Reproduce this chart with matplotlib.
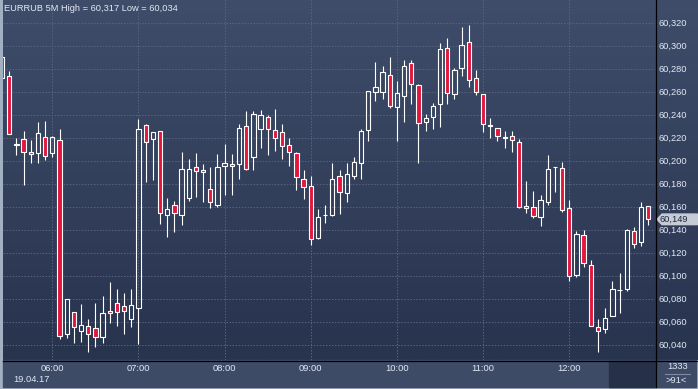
import numpy as np
import pandas as pd
import matplotlib
matplotlib.use("Agg")
import matplotlib.pyplot as plt
from matplotlib.patches import Rectangle, Polygon
from matplotlib.ticker import FuncFormatter

plt.rcParams['font.family'] = ['Liberation Sans', 'DejaVu Sans']

# EURRUB 5M candles, 19.04.17 05:25 .. 12:55
opens = [60.2900, 60.2737, 60.2140, 60.2186, 60.2073, 60.2064, 60.2203, 60.2064,
         60.2180, 60.0496, 60.0682, 60.0517, 60.0560, 60.0543, 60.0470, 60.0690,
         60.0760, 60.0734, 60.0626, 60.0716, 60.2308, 60.2186, 60.2256, 60.1525,
         60.1612, 60.1525, 60.1673, 60.1943, 60.1917, 60.1751, 60.1612, 60.1951,
         60.1969, 60.1969, 60.2299, 60.2030, 60.2273, 60.2377, 60.2264, 60.2247,
         60.2134, 60.2064, 60.1838, 60.1778, 60.1325, 60.1525, 60.1525, 60.1864,
         60.1717, 60.1864, 60.1977, 60.2264, 60.2595, 60.2595, 60.2743, 60.2464,
         60.2560, 60.2847, 60.2656, 60.2334, 60.2377, 60.2490, 60.2977, 60.2577,
         60.2803, 60.3030, 60.2717, 60.2577, 60.2304, 60.2282, 60.2200, 60.2212,
         60.2160, 60.1586, 60.1595, 60.1508, 60.1638, 60.1943, 60.1934, 60.1586,
         60.1009, 60.1351, 60.1090, 60.0551, 60.0534, 60.0647, 60.0873, 60.0882,
         60.1386, 60.1290, 60.1603]
highs = [60.2900, 60.2780, 60.2200, 60.2258, 60.2180, 60.2337, 60.2345, 60.2215,
         60.2276, 60.0795, 60.0682, 60.0754, 60.0621, 60.0763, 60.0823, 60.0945,
         60.0884, 60.0850, 60.0884, 60.2363, 60.2319, 60.2247, 60.2256, 60.1676,
         60.1650, 60.2073, 60.2012, 60.2064, 60.1969, 60.1943, 60.2056, 60.2143,
         60.2056, 60.2317, 60.2430, 60.2430, 60.2438, 60.2395, 60.2447, 60.2317,
         60.2195, 60.2073, 60.1917, 60.1864, 60.1577, 60.1612, 60.1977, 60.1917,
         60.1977, 60.2035, 60.2276, 60.2603, 60.2858, 60.2823, 60.2902, 60.2690,
         60.2873, 60.2873, 60.2664, 60.2403, 60.2499, 60.3021, 60.3064, 60.2803,
         60.3160, 60.3177, 60.2786, 60.2577, 60.2369, 60.2282, 60.2256, 60.2256,
         60.2189, 60.1821, 60.1734, 60.1699, 60.2047, 60.1943, 60.1986, 60.1656,
         60.1386, 60.1395, 60.1134, 60.0621, 60.0717, 60.0951, 60.1021, 60.1403,
         60.1421, 60.1638, 60.1603]
lows = [60.2716, 60.2230, 60.2050, 60.1790, 60.1980, 60.1980, 60.2006, 60.2032,
        60.0452, 60.0461, 60.0417, 60.0426, 60.0339, 60.0383, 60.0417, 60.0586,
        60.0565, 60.0496, 60.0557, 60.0409, 60.1817, 60.1835, 60.1447, 60.1334,
        60.1383, 60.1443, 60.1647, 60.1682, 60.1638, 60.1586, 60.1595, 60.1699,
        60.1699, 60.1838, 60.1917, 60.1917, 60.2108, 60.2047, 60.2082, 60.2012,
        60.1951, 60.1743, 60.1664, 60.1264, 60.1317, 60.1456, 60.1517, 60.1534,
        60.1643, 60.1838, 60.1843, 60.2174, 60.2522, 60.2539, 60.2456, 60.2174,
        60.2334, 60.2496, 60.1983, 60.2261, 60.2273, 60.2296, 60.2490, 60.2534,
        60.2739, 60.2638, 60.2574, 60.2252, 60.2200, 60.2174, 60.2113, 60.2078,
        60.1591, 60.1548, 60.1504, 60.1435, 60.1612, 60.1730, 60.1551, 60.0951,
        60.0991, 60.1078, 60.0560, 60.0339, 60.0499, 60.0647, 60.0678, 60.0864,
        60.1238, 60.1256, 60.1443]
closes = [60.2716, 60.2230, 60.2140, 60.2078, 60.2056, 60.2238, 60.2038, 60.2203,
          60.0478, 60.0795, 60.0557, 60.0569, 60.0490, 60.0464, 60.0673, 60.0673,
          60.0682, 60.0690, 60.0743, 60.2273, 60.2160, 60.2247, 60.1543, 60.1577,
          60.1543, 60.1925, 60.1925, 60.1908, 60.1899, 60.1638, 60.1943, 60.1977,
          60.1951, 60.2282, 60.1925, 60.2403, 60.2395, 60.2273, 60.2195, 60.2125,
          60.2073, 60.1856, 60.1769, 60.1317, 60.1508, 60.1525, 60.1838, 60.1725,
          60.1882, 60.1986, 60.2256, 60.2603, 60.2638, 60.2769, 60.2473, 60.2586,
          60.2821, 60.2664, 60.2325, 60.2369, 60.2473, 60.2969, 60.2586, 60.2786,
          60.3003, 60.2699, 60.2595, 60.2317, 60.2304, 60.2212, 60.2200, 60.2177,
          60.1600, 60.1603, 60.1517, 60.1656, 60.1925, 60.1943, 60.1569, 60.0995,
          60.1360, 60.1108, 60.0560, 60.0517, 60.0630, 60.0882, 60.0873, 60.1395,
          60.1273, 60.1595, 60.1490]

times = pd.date_range("2017-04-19 05:25", periods=len(opens), freq="5min")
yticks = [60.04, 60.06, 60.08, 60.10, 60.12, 60.14, 60.16, 60.18,
          60.20, 60.22, 60.24, 60.26, 60.28, 60.30, 60.32]

W, H = 698, 389
top_col = np.array([63, 77, 106]) / 255
bot_col = np.array([40, 51, 78]) / 255
red = '#e2163e'
txt = '#e2e9f4'
grid_col = '#58647f'

fig = plt.figure(figsize=(W / 100, H / 100), dpi=100)

# background in pixel coordinates
bg = fig.add_axes([0, 0, 1, 1])
bg.set_xlim(0, W)
bg.set_ylim(H, 0)
bg.axis('off')
bg.add_patch(Rectangle((0, 0), W, H, color='#a3afc3', zorder=0))
grad = np.linspace(0, 1, 256)[:, None, None]
grad = top_col * (1 - grad) + bot_col * grad
bg.imshow(grad, extent=[2.5, W, 360, 0], aspect='auto', zorder=1)
bg.add_patch(Rectangle((2.5, 360), W - 4.5, 26.5, color='#3e4b67', zorder=2))
bg.add_patch(Rectangle((609, 361), 46, 25.5, color='#263149', zorder=3))
bg.set_xlim(0, W)
bg.set_ylim(H, 0)

# main chart
ax = fig.add_axes([2.5 / W, 29 / H, 652.5 / W, 360 / H])
ax.set_facecolor('none')
x = np.arange(len(opens)) - 7
o = np.array(opens)
c = np.array(closes)
hi = np.array(highs)
lo = np.array(lows)
body_top = np.maximum(o, c)
body_bot = np.minimum(o, c)
ax.vlines(x, body_top, hi, color='white', lw=0.8, zorder=3)
ax.vlines(x, lo, body_bot, color='white', lw=0.8, zorder=3)
heights = np.maximum(body_top - body_bot, 0.0002)
fills = [red if cc < oo else 'none' for oo, cc in zip(o, c)]
ax.bar(x, heights, bottom=body_bot, width=0.6, color=fills,
       edgecolor='white', linewidth=0.8, zorder=4)

ax.set_xlim(-6.94, 83.94)
ax.set_ylim(60.0267, 60.3397)
hour_pos = [i - 7 for i, t in enumerate(times) if t.minute == 0]
hour_lab = [t.strftime('%H:%M') for t in times if t.minute == 0]
ax.set_xticks(hour_pos)
ax.set_xticklabels(hour_lab)
ax.set_yticks(yticks)
ax.yaxis.set_major_formatter(FuncFormatter(lambda v, p: f"{v:.3f}".replace('.', ',')))
ax.yaxis.tick_right()
ax.tick_params(axis='y', length=0, pad=2.3, labelsize=6.7, labelcolor=txt)
ax.tick_params(axis='x', length=0, pad=2.6, labelsize=6.7, labelcolor=txt)
ax.grid(True, color=grid_col, lw=0.7, linestyle=(0, (1.5, 1.6)))
for s in ax.spines.values():
    s.set_visible(False)

# overlay: separators, labels, last price
ov = fig.add_axes([0, 0, 1, 1])
ov.set_facecolor('none')
ov.set_xlim(0, W)
ov.set_ylim(H, 0)
ov.axis('off')
ov.plot([655.5, 655.5], [0, 387], color='black', lw=0.9)
ov.plot([2.5, W], [360.5, 360.5], color='black', lw=0.9)
ov.text(4, 8, "EURRUB 5M High = 60,317 Low = 60,034", fontsize=6.7,
        color=txt, va='center', ha='left')
ov.text(13, 380, times[0].strftime('%d.%m.%y'), fontsize=6.7,
        color=txt, va='center', ha='left')
ov.text(677.5, 366.5, "1333", fontsize=6.7, color=txt, va='center', ha='center')
ov.plot([665, 690], [374, 374], color='#7f8ba2', lw=0.8)
ov.text(676.5, 380.5, ">91<", fontsize=6.7, color=txt, va='center', ha='center')
last_y = 22.7 + (60.320 - closes[-1]) * 1150
ov.add_patch(Polygon([[657, last_y], [662, last_y - 5.3], [697.5, last_y - 5.3],
                      [697.5, last_y + 5.3], [662, last_y + 5.3]],
                     closed=True, color='#c6cbd4'))
ov.text(660, last_y, f"{closes[-1]:.3f}".replace('.', ','), fontsize=6.7,
        color='#1d2740', va='center', ha='left')

fig.savefig("out.png", dpi=100)
